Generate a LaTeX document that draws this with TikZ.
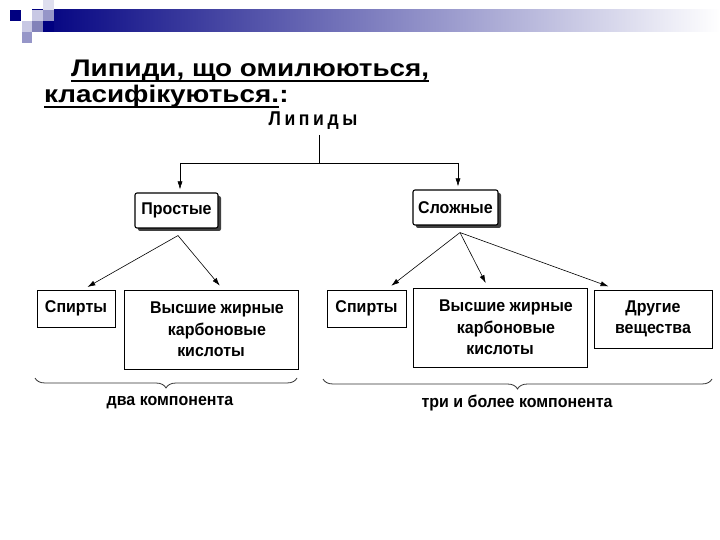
\documentclass[tikz,border=0pt]{standalone}
\usepackage{fontspec}
\setmainfont{Liberation Sans}
\usetikzlibrary{shadows,arrows.meta,decorations.pathreplacing}
\definecolor{navy}{RGB}{0,0,128}
\definecolor{lav}{RGB}{200,200,228}
\definecolor{lavl}{RGB}{222,222,238}
\definecolor{lavm}{RGB}{150,150,200}
\definecolor{lavd}{RGB}{130,130,185}
\newfontfamily\boxfont[FakeStretch=0.94]{Liberation Sans}
\newfontfamily\titlefont[FakeStretch=1.16]{Liberation Sans}
\newfontfamily\rootfont[FakeStretch=0.88, LetterSpace=18]{Liberation Sans}
\tikzset{
  hdrbox/.style={draw=black, line width=1.1pt, rounded corners=2pt, fill=white,
    drop shadow={shadow xshift=3pt, shadow yshift=-3pt, fill=black!75, opacity=1},
    font=\boxfont\bfseries\fontsize{17}{19}\selectfont, inner sep=0pt},
  leafbox/.style={draw=black, line width=1pt, fill=white, align=center,
    font=\boxfont\bfseries\fontsize{17}{21.5}\selectfont, inner sep=0pt},
  arr/.style={-{Latex[length=8pt,width=5pt]}, line width=0.6pt},
  conn/.style={line width=0.8pt},
  bracestyle/.style={decorate, decoration={brace, mirror, amplitude=10pt}, line width=0.8pt, black!80},
  lbl/.style={font=\boxfont\bfseries\fontsize{17}{19}\selectfont},
  ttl/.style={font=\titlefont\bfseries\fontsize{24}{26}\selectfont, inner sep=0pt},
  uln/.style={line width=1.8pt}
}
\begin{document}
\begin{tikzpicture}[x=1pt,y=-1pt]
\useasboundingbox[fill=white] (0,0) rectangle (720,540);
% header bar
\shade[left color=navy, right color=white] (32,10) rectangle (720,32);
\fill[navy] (10,10) rectangle (21,21);
\fill[lav] (32,10) rectangle (43,21);
\fill[lavl] (43,0) rectangle (54,10);
\fill[lavm] (43,10) rectangle (54,21);
\fill[lav] (22,21) rectangle (32,32);
\fill[lavd] (32,21) rectangle (43,32);
\fill[navy] (43,21) rectangle (54,32);
\fill[lavm] (22,32) rectangle (32,43);
% title
\node[ttl, anchor=base west] (t1) at (71,77) {Липиди, що омилюються,};
\node[ttl, anchor=base west] (t2) at (44,103) {класифікуються.};
\node[ttl, anchor=base west] (t2c) at (t2.base east) {:};
\draw[uln] ([yshift=-4pt]t1.base west) -- ([yshift=-4pt]t1.base east);
\draw[uln] ([yshift=-4pt]t2.base west) -- ([yshift=-4pt]t2.base east);
% root
\node[anchor=base, inner sep=0pt, font=\rootfont\bfseries\fontsize{20}{22}\selectfont] (lip) at (313,126) {Липиды};
\coordinate (top) at (319,135);
\coordinate (j) at (319,163);
\coordinate (jl) at (180,163);
\coordinate (jr) at (458,163);
% mid boxes
\node[hdrbox, minimum width=83pt, minimum height=35pt] (prost) at (176.5,210.5) {Простые};
\node[hdrbox, minimum width=85pt, minimum height=35pt] (slozh) at (455.5,207.5) {Сложные};
% leaf boxes
\node[leafbox, minimum width=78pt, minimum height=37pt] (sp1) at (76,308.5) {Спирты};
\node[leafbox, minimum width=174pt, minimum height=79pt] (vys1) at (211,329.5) {\hspace*{12pt}Высшие жирные\\\hspace*{12pt}карбоновые\\кислоты};
\node[leafbox, minimum width=79pt, minimum height=37pt] (sp2) at (366.5,308.5) {Спирты};
\node[leafbox, minimum width=174pt, minimum height=79pt] (vys2) at (500,327.5) {\hspace*{12pt}Высшие жирные\\\hspace*{12pt}карбоновые\\кислоты};
\node[leafbox, minimum width=118pt, minimum height=58pt] (dr) at (653,319) {Другие\\вещества};
% connectors
\draw[conn] (top) -- (j);
\draw[conn] (jl) -- (jr);
\draw[arr] (jl) -- ([yshift=3pt]prost.north -| jl);
\draw[arr] (jr) -- ([yshift=3pt]slozh.north -| jr);
\draw[arr, shorten >=5pt] ([xshift=1.5pt,yshift=-7pt]prost.south) -- ([xshift=7pt]sp1.north);
\draw[arr, shorten >=5pt] ([xshift=1.5pt,yshift=-7pt]prost.south) -- ([xshift=12pt]vys1.north);
\draw[arr, shorten >=6pt] ([xshift=4.5pt,yshift=-7pt]slozh.south) -- ([xshift=20pt]sp2.north);
\draw[arr, shorten >=5pt] ([xshift=4.5pt,yshift=-7pt]slozh.south) -- ([xshift=-12pt]vys2.north);
\draw[arr, shorten >=9pt] ([xshift=4.5pt,yshift=-7pt]slozh.south) -- ([xshift=-36pt]dr.north);
% braces
\coordinate (b1l) at (35,378);
\coordinate (b1r) at (297,378);
\coordinate (b2l) at (323,379);
\coordinate (b2r) at (712,379);
\draw[bracestyle] (b1l) -- (b1r);
\draw[bracestyle] (b2l) -- (b2r);
\node[lbl] (two) at (170,403) {два компонента};
\node[lbl] (three) at (517,403) {три и более компонента};
\end{tikzpicture}
\end{document}
